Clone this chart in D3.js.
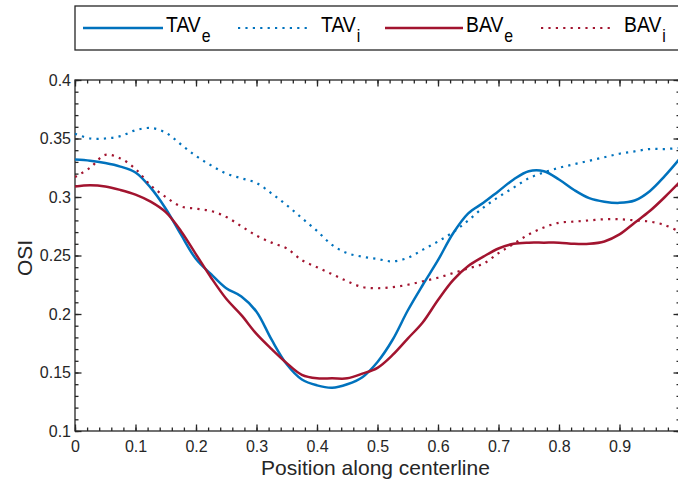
<!DOCTYPE html>
<html>
<head>
<meta charset="utf-8">
<script src="https://cdn.jsdelivr.net/npm/d3@7"></script>
<style>
  body { margin: 0; background: #fff; }
  svg { display: block; font-family: "Liberation Sans", Arial, sans-serif; }
</style>
</head>
<body>
<script>
// position along centerline (shared by all series)
const positions = [
    0, 0.025, 0.05, 0.075, 0.1, 0.125, 0.15, 0.175, 0.2, 0.225,
    0.25, 0.275, 0.3, 0.325, 0.35, 0.375, 0.4, 0.425, 0.45, 0.475,
    0.5, 0.525, 0.55, 0.575, 0.6, 0.625, 0.65, 0.675, 0.7, 0.725,
    0.75, 0.775, 0.8, 0.825, 0.85, 0.875, 0.9, 0.925, 0.95, 0.975, 1.0
]

const tavE = [
    0.332, 0.331, 0.329, 0.326, 0.321, 0.308, 0.290, 0.268, 0.247, 0.234,
    0.222, 0.215, 0.202, 0.178, 0.157, 0.144, 0.139, 0.137, 0.140, 0.146,
    0.159, 0.178, 0.203, 0.225, 0.246, 0.269, 0.286, 0.295, 0.305, 0.315,
    0.322, 0.322, 0.315, 0.306, 0.299, 0.296, 0.295, 0.297, 0.305, 0.318, 0.333
]

const tavI = [
    0.354, 0.350, 0.350, 0.352, 0.357, 0.359, 0.355, 0.345, 0.335, 0.327,
    0.320, 0.316, 0.312, 0.303, 0.293, 0.282, 0.271, 0.259, 0.252, 0.249,
    0.247, 0.245, 0.248, 0.255, 0.262, 0.270, 0.280, 0.291, 0.300, 0.308,
    0.316, 0.321, 0.325, 0.328, 0.331, 0.334, 0.337, 0.339, 0.341, 0.341, 0.342
]

const bavE = [
    0.309, 0.310, 0.309, 0.306, 0.302, 0.296, 0.287, 0.271, 0.251, 0.231,
    0.213, 0.199, 0.183, 0.170, 0.158, 0.148, 0.145, 0.145, 0.145, 0.149,
    0.154, 0.165, 0.179, 0.193, 0.212, 0.229, 0.241, 0.249, 0.256, 0.260,
    0.261, 0.261, 0.261, 0.260, 0.260, 0.262, 0.268, 0.278, 0.288, 0.300, 0.313
]

const bavI = [
    0.317, 0.325, 0.336, 0.333, 0.324, 0.310, 0.300, 0.292, 0.290, 0.288,
    0.283, 0.275, 0.267, 0.261, 0.256, 0.246, 0.240, 0.234, 0.228, 0.223,
    0.222, 0.223, 0.225, 0.228, 0.231, 0.235, 0.239, 0.243, 0.252, 0.260,
    0.268, 0.274, 0.278, 0.279, 0.280, 0.281, 0.281, 0.280, 0.279, 0.276, 0.270
]

const seriesNames = ["TAV", "TAV", "BAV", "BAV"]
const seriesSubs = ["e", "i", "e", "i"]

const xTicks = [0, 0.1, 0.2, 0.3, 0.4, 0.5, 0.6, 0.7, 0.8, 0.9]
const yTicks = [0.1, 0.15, 0.2, 0.25, 0.3, 0.35, 0.4]

const blue = "#0072bd", red = "#a2142f", ink = "#262626"

const series = [
    {values: tavE, color: blue, dotted: false},
    {values: tavI, color: blue, dotted: true},
    {values: bavE, color: red, dotted: false},
    {values: bavI, color: red, dotted: true}
]

const width = 678, height = 483
const mLeft = 75, mRight = 680, mTop = 80, mBottom = 431

const x = d3.scaleLinear().domain([0, 1]).range([mLeft, mRight])
const y = d3.scaleLinear().domain([0.1, 0.4]).range([mBottom, mTop])

const svg = d3.select("body").append("svg")
    .attr("width", width)
    .attr("height", height)

svg.append("clipPath").attr("id", "plot")
    .append("rect")
    .attr("x", mLeft).attr("y", mTop)
    .attr("width", mRight - mLeft).attr("height", mBottom - mTop)

// minor ticks
const xMinor = d3.range(0, 1.001, 0.02)
const yMinor = d3.range(0.1, 0.4001, 0.01)

function styleAxis(g) {
    g.select(".domain").remove()
    g.selectAll("line").attr("stroke", ink).attr("stroke-width", 1.3)
    g.selectAll("text").attr("fill", ink).attr("font-size", 16)
}

svg.append("g").attr("transform", "translate(0," + mBottom + ")")
    .call(d3.axisBottom(x).tickValues(xMinor).tickFormat("").tickSize(-3.5)).call(styleAxis)
svg.append("g").attr("transform", "translate(0," + mTop + ")")
    .call(d3.axisTop(x).tickValues(xMinor).tickFormat("").tickSize(-3.5)).call(styleAxis)
svg.append("g").attr("transform", "translate(" + mLeft + ",0)")
    .call(d3.axisLeft(y).tickValues(yMinor).tickFormat("").tickSize(-3.5)).call(styleAxis)
svg.append("g").attr("transform", "translate(" + mRight + ",0)")
    .call(d3.axisRight(y).tickValues(yMinor).tickFormat("").tickSize(-3.5)).call(styleAxis)

// major ticks
svg.append("g").attr("transform", "translate(0," + mBottom + ")")
    .call(d3.axisBottom(x).tickValues(xTicks).tickFormat(d3.format("")).tickSize(-6.5).tickPadding(10))
    .call(styleAxis)
svg.append("g").attr("transform", "translate(0," + mTop + ")")
    .call(d3.axisTop(x).tickValues(xTicks).tickFormat("").tickSize(-6.5)).call(styleAxis)
svg.append("g").attr("transform", "translate(" + mLeft + ",0)")
    .call(d3.axisLeft(y).tickValues(yTicks).tickFormat(d3.format("")).tickSize(-6.5).tickPadding(4))
    .call(styleAxis)
svg.append("g").attr("transform", "translate(" + mRight + ",0)")
    .call(d3.axisRight(y).tickValues(yTicks).tickFormat("").tickSize(-6.5)).call(styleAxis)

// frame
svg.append("rect")
    .attr("x", mLeft).attr("y", mTop)
    .attr("width", mRight - mLeft).attr("height", mBottom - mTop)
    .attr("fill", "none").attr("stroke", ink).attr("stroke-width", 1.3)

const line = d3.line()
    .x(function(d, i) { return x(positions[i]) })
    .y(function(d) { return y(d) })
    .curve(d3.curveCatmullRom.alpha(0.5))

svg.append("g").attr("clip-path", "url(#plot)")
    .selectAll("path")
    .data(series)
    .enter().append("path")
    .attr("d", function(d) { return line(d.values) })
    .attr("fill", "none")
    .attr("stroke", function(d) { return d.color })
    .attr("stroke-width", function(d) { return d.dotted ? 2.2 : 2.5 })
    .attr("stroke-dasharray", function(d) { return d.dotted ? "2.2,5.2" : null })

// axis labels
svg.append("text")
    .attr("x", (mLeft + mRight) / 2 - 2).attr("y", 475)
    .attr("text-anchor", "middle")
    .attr("font-size", 21).attr("fill", ink)
    .text("Position along centerline")

svg.append("text")
    .attr("transform", "translate(32,258) rotate(-90)")
    .attr("text-anchor", "middle")
    .attr("font-size", 21).attr("fill", ink)
    .text("OSI")

// legend
const legend = svg.append("g")
legend.append("rect")
    .attr("x", 75).attr("y", 6)
    .attr("width", 620).attr("height", 44)
    .attr("fill", "#fff").attr("stroke", ink).attr("stroke-width", 1.3)

const legLine = [[83, 163], [238, 310], [385, 463], [541, 615]]
const legText = [166, 321, 466, 624]

series.forEach(function(s, i) {
    legend.append("line")
        .attr("x1", legLine[i][0]).attr("x2", legLine[i][1])
        .attr("y1", 28).attr("y2", 28)
        .attr("stroke", s.color)
        .attr("stroke-width", s.dotted ? 2.2 : 2.5)
        .attr("stroke-dasharray", s.dotted ? "2.2,5.2" : null)

    const t = legend.append("text")
        .attr("transform", "translate(" + legText[i] + ",32) scale(0.88,1)")
        .attr("font-size", 22).attr("fill", "#000")
    t.append("tspan").text(seriesNames[i])
    t.append("tspan").attr("dx", 1).attr("dy", 10).attr("font-size", 18).text(seriesSubs[i])
})
</script>
</body>
</html>
